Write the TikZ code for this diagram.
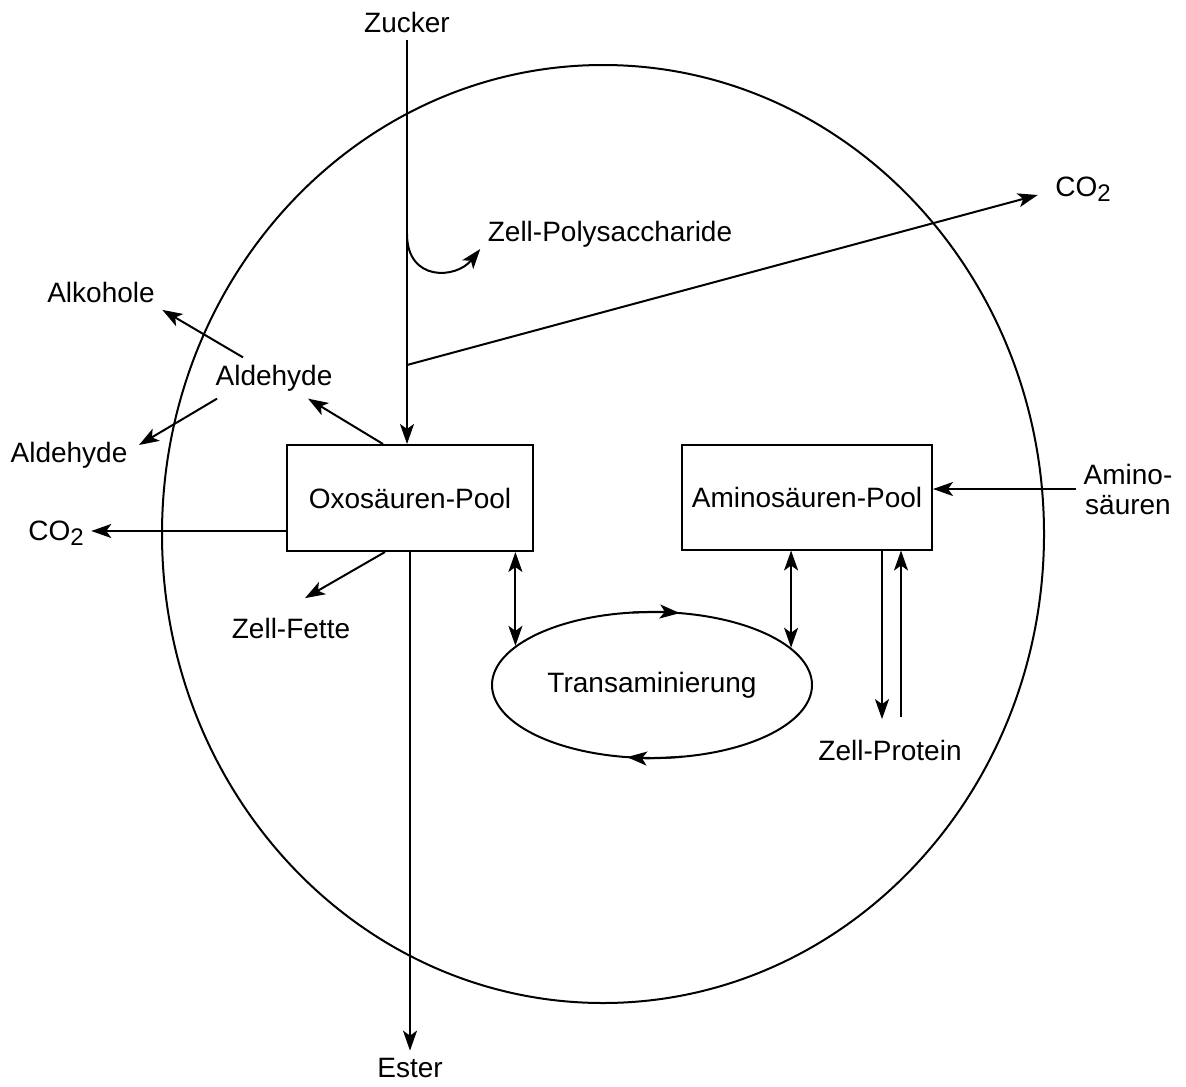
\documentclass[tikz,border=0pt]{standalone}
\usepackage{fontspec}
\setmainfont{Liberation Sans}
\usepackage{tikz}
\usetikzlibrary{shapes.geometric,arrows.meta,calc}

% carbon dioxide with a large, lowered index
\newcommand{\cotwo}{CO\raisebox{-2.5pt}{\fontsize{12pt}{12pt}\selectfont 2}}

\begin{document}
\begin{tikzpicture}[
    x=0.5pt, y=-0.5pt,
    font=\fontsize{14pt}{15pt}\selectfont,
    line width=1pt,
    pool/.style={rectangle, draw, minimum width=123pt, minimum height=53pt,
                 inner sep=0pt, align=center},
    ring/.style={ellipse, draw, minimum width=160pt, minimum height=73pt,
                 inner sep=0pt},
    stoff/.style={inner sep=3.3pt, align=center},
    arrow/.style={-{Stealth[length=10pt, width=7pt, inset=2.5pt]}},
    both/.style={{Stealth[length=10pt, width=7pt, inset=2.5pt]}-{Stealth[length=10pt, width=7pt, inset=2.5pt]}},
]
    \useasboundingbox (0,0) rectangle (1186,1086);
    % cell wall
    \draw (603,534) ellipse [x radius=441, y radius=469];

    % pools and transamination
    \node[pool] (oxo) at (410,498) {Oxosäuren-Pool};
    \node[pool, minimum width=125pt, minimum height=52.5pt] (aminopool) at (807,497) {Aminosäuren-Pool};
    \node[ring] (trans) at (652,685) {Transaminierung};

    % substances
    \node[stoff] (zucker) at (407,22) {Zucker};
    \node[stoff] (poly) at (610,234) {Zell-Polysaccharide};
    \node[stoff] (co2b) at (1083,189) {\cotwo};
    \node[stoff] (alk) at (101,292) {Alkohole};
    \node[stoff] (ald1) at (274,378) {Aldehyde};
    \node[stoff] (ald2) at (69,455) {Aldehyde};
    \node[stoff] (co2a) at (56,533) {\cotwo};
    \node[stoff] (fette) at (291,628) {Zell-Fette};
    \node[stoff] (ester) at (410,1068) {Ester};
    \node[stoff] (amino) at (1128,489) {Amino-\\säuren};
    \node[stoff] (protein) at (890,750) {Zell-Protein};

    \coordinate (polyFork) at (zucker |- poly);
    \coordinate (co2Fork) at (407,365);
    \coordinate (co2Out) at ($(oxo.west)+(0,33)$);

    % sugar uptake and branches
    \draw[arrow] (zucker) -- (zucker |- oxo.north);
    \draw[arrow] (polyFork) .. controls +(0,48) and +(-24,30) .. ($(poly.west)+(0,15)$);
    \draw[arrow] (co2Fork) -- ($(co2b.west)+(-10,6)$);

    % out of the oxo acid pool
    \draw[arrow] ($(oxo.north)+(-27,0)$) -- (ald1);
    \draw[arrow] ($(ald1.north)+(-31,0)$) -- (alk.south east);
    \draw[arrow] ($(ald1.south west)+(9,0)$) -- ($(ald2.east)+(4,-10)$);
    \draw[arrow] (co2Out) -- (co2Out -| co2a.east);
    \draw[arrow] ($(oxo.south)+(-25,0)$) -- ($(fette.north)+(14,-12)$);
    \draw[arrow] (ester |- oxo.south) -- (ester);

    % transamination cycle
    \draw[both] (oxo.south -| trans.164.6) -- (trans.164.6);
    \draw[both] (aminopool.south -| trans.15.4) -- (trans.15.4);
    \draw[arrow] ($(trans.center)+(97:80pt and 36.5pt)$)
        arc[start angle=97, end angle=80, x radius=80pt, y radius=36.5pt];
    \draw[arrow] ($(trans.center)+(281:80pt and 36.5pt)$)
        arc[start angle=281, end angle=261, x radius=80pt, y radius=36.5pt];

    % amino acids in, protein
    \draw[arrow] (amino) -- (amino -| aminopool.east);
    \draw[arrow] ($(aminopool.south)+(75,0)$) -- ($(protein.north)+(-8,-13)$);
    \draw[arrow] ($(protein.north)+(11,-15)$) -- ($(aminopool.south)+(94,0)$);
\end{tikzpicture}
\end{document}
